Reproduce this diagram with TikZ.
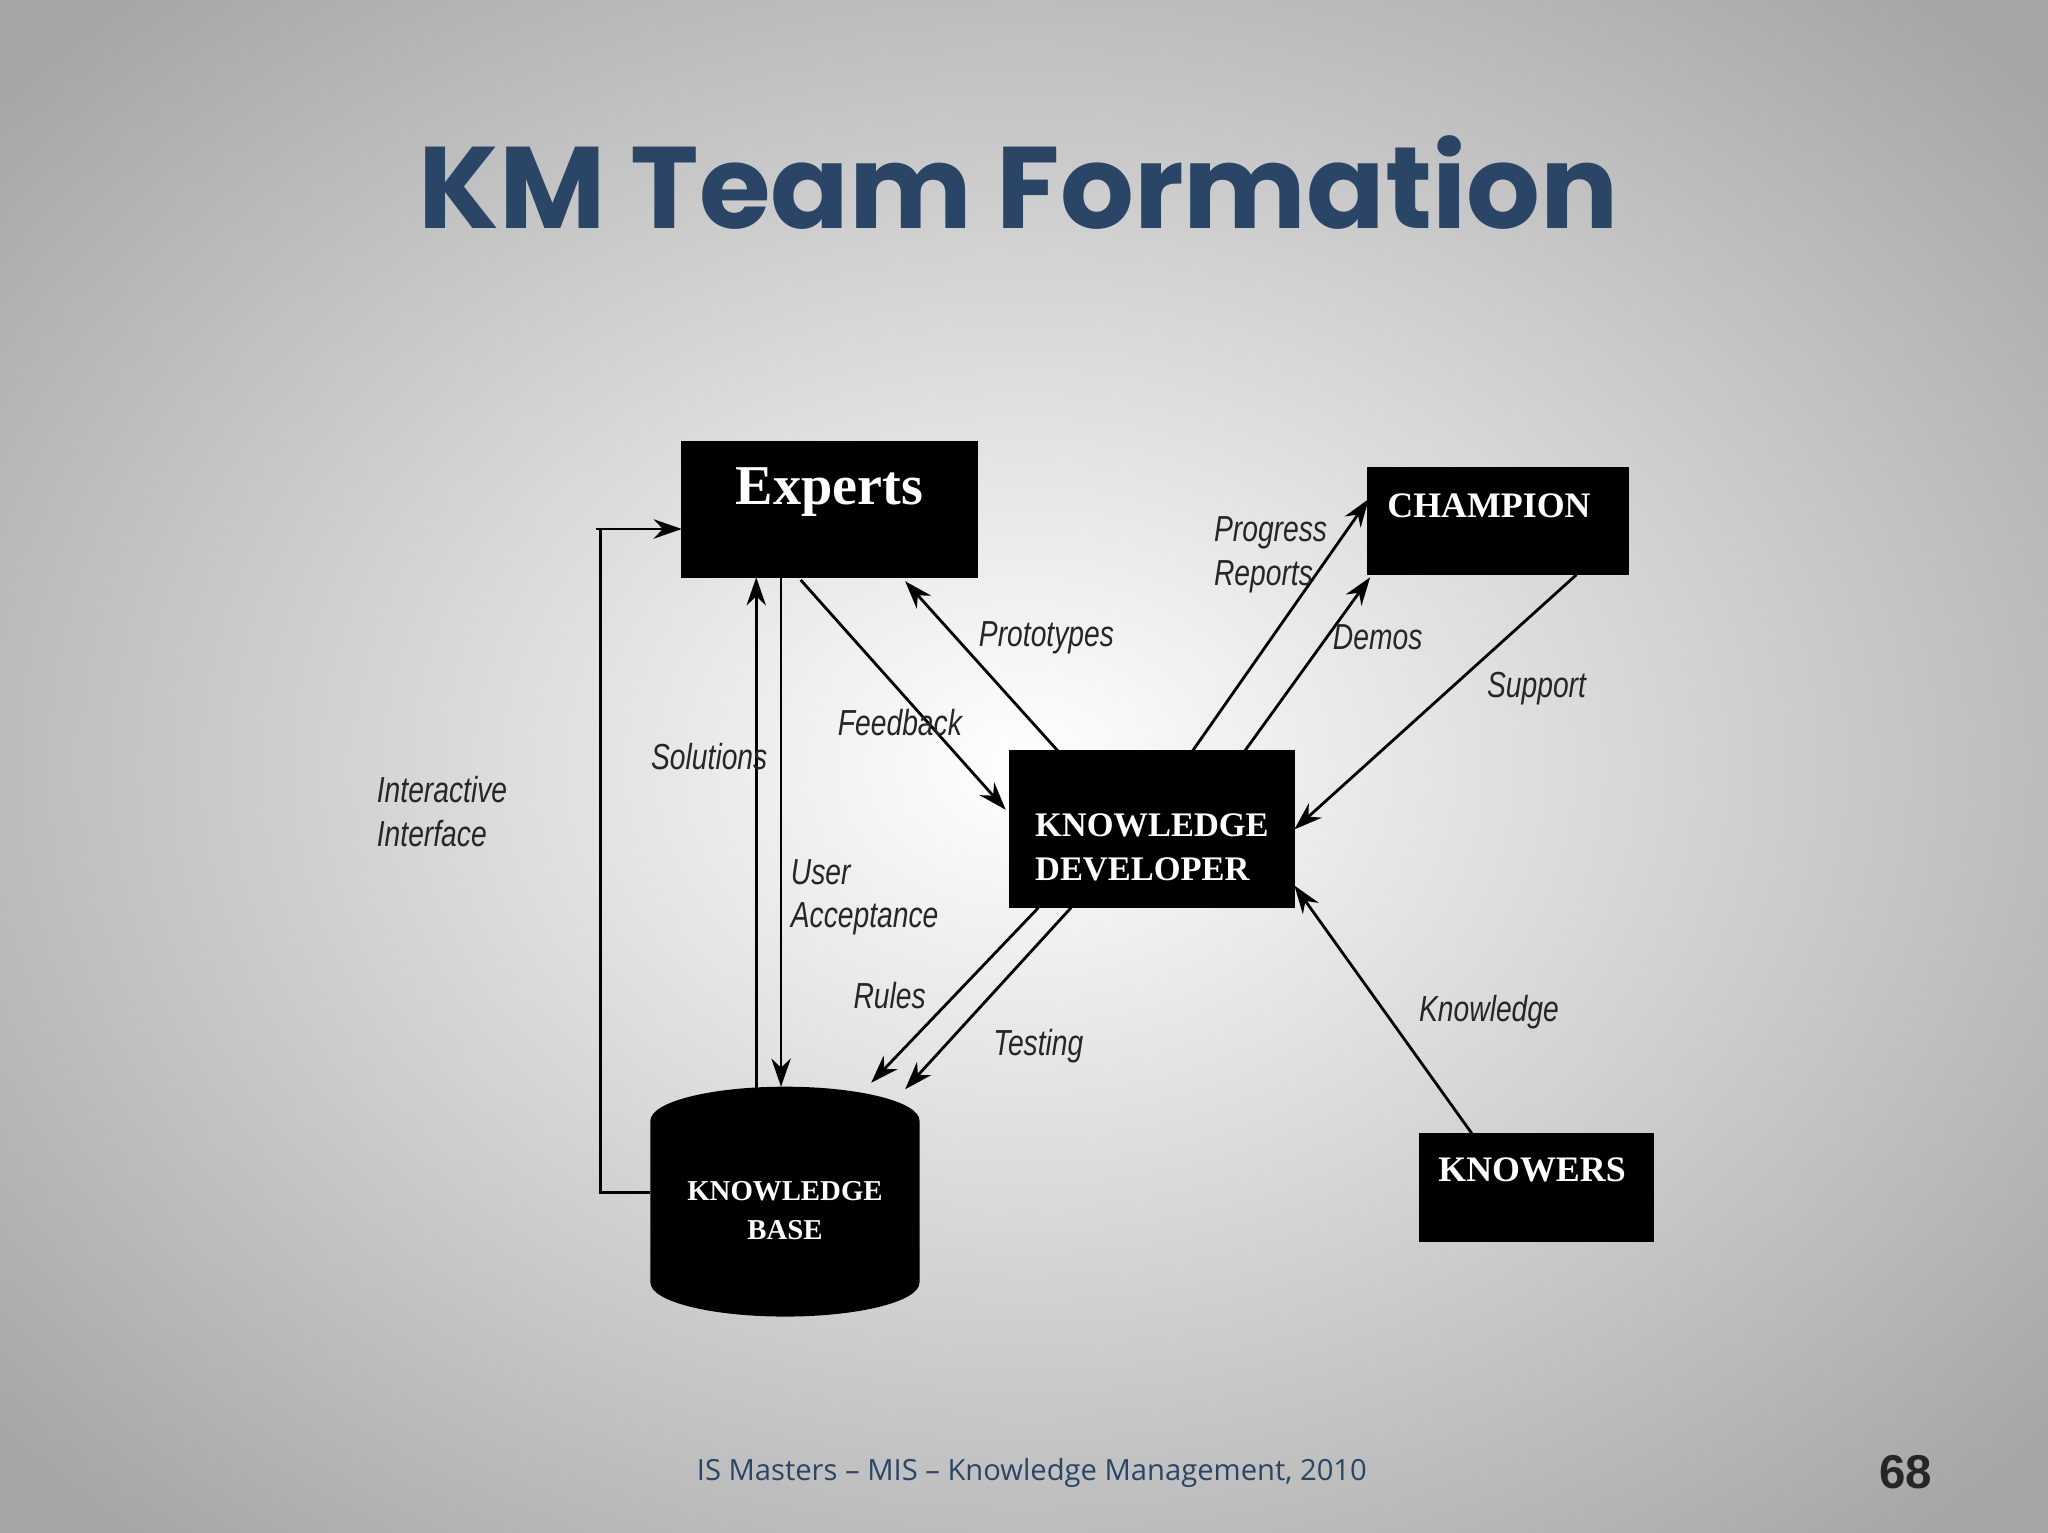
\documentclass[tikz,border=0pt]{standalone}
\usepackage{fontspec}
\usetikzlibrary{arrows.meta}
\setmainfont{Liberation Serif}
\newfontfamily\lblfont[FakeStretch=0.78]{Liberation Sans}
\newfontfamily\titlefont{Poppins}
\newfontfamily\footfont{Open Sans}
\newfontfamily\numfont{Liberation Sans}
\definecolor{navy}{HTML}{2A4566}
\begin{document}
\begin{tikzpicture}[x=0.01306cm,y=-0.01306cm,
  blk/.style={fill=black,draw=black},
  btxt/.style={text=white,font=\bfseries,inner sep=0},
  lbl/.style={font=\lblfont\itshape\fontsize{10.3}{12.5}\selectfont,anchor=west,inner sep=0,text=black!85},
  arr/.style={-{Stealth[length=8pt,width=5.5pt]},line width=0.8pt}]
\useasboundingbox (0,0) rectangle (1568,1173);
\begin{scope}
\clip (0,0) rectangle (1568,1173);
\shade[inner color=white,outer color=black!35] (-250,-200) rectangle (1818,1373);
\end{scope}
\node[text=navy,font=\titlefont\bfseries\fontsize{33}{38}\selectfont] (title) at (780,140) {KM Team Formation};
% boxes
\draw[blk] (522,338) rectangle (748,442);
\node[btxt,font=\bfseries\fontsize{16}{18}\selectfont] (exp) at (635,377) {Experts};
\draw[blk] (1047,358) rectangle (1247,440);
\node[btxt,font=\bfseries\fontsize{10.2}{12}\selectfont] (ch) at (1140,387) {CHAMPION};
\draw[blk] (773,575) rectangle (991,695);
\node[btxt,font=\bfseries\fontsize{9.8}{12.5}\selectfont,align=left,anchor=west] (kd) at (792,649) {KNOWLEDGE\\DEVELOPER};
\draw[blk] (1087,868) rectangle (1266,950);
\node[btxt,font=\bfseries\fontsize{10.2}{12}\selectfont] (kn) at (1173,896) {KNOWERS};
\fill (498,858) -- (498,982) arc[start angle=180,end angle=360,x radius=103,y radius=-26] -- (704,858) arc[start angle=0,end angle=180,x radius=103,y radius=-26] -- cycle;
\node[btxt,font=\bfseries\fontsize{8.2}{11}\selectfont,align=center] (kb) at (601,927) {KNOWLEDGE\\BASE};
% connectors
\coordinate (i1) at (460,913); \coordinate (i2) at (460,405);
\draw[arr] (498,913) -- (i1) -- (i2) -- (522,405);
\draw[line width=0.8pt] (i2) -- +(-4,0);
\draw[arr] (579,834) -- (579,442);
\draw[arr] (598,442) -- (598,832);
\draw[arr] (613,444) -- (770,620);
\draw[arr] (810,575) -- (693,445);
\draw[arr] (913,575) -- (1048,382);
\draw[arr] (953,575) -- (1049,442);
\draw[arr] (1207,440) -- (991,635);
\draw[arr] (1127,868) -- (991,678);
\draw[arr] (795,695) -- (667,829);
\draw[arr] (820,695) -- (693,834);
% labels
\node[lbl,align=left] (l1) at (929,425) {Progress\\Reports};
\node[lbl] (l2) at (749,488) {Prototypes};
\node[lbl] (l3) at (1020,488) {Demos};
\node[lbl] (l4) at (1138,527) {Support};
\node[lbl] (l5) at (641,553) {Feedback};
\node[lbl] (l6) at (498,579) {Solutions};
\node[lbl,align=left] (l7) at (288,621) {Interactive\\Interface};
\node[lbl,align=left] (l8) at (605,687) {User\\Acceptance};
\node[lbl] (l9) at (653,762) {Rules};
\node[lbl] (l10) at (760,801) {Testing};
\node[lbl] (l11) at (1086,775) {Knowledge};
\node[text=navy,font=\footfont\fontsize{8.3}{10}\selectfont] (ft) at (790,1128) {IS Masters – MIS – Knowledge Management, 2010};
\node[font=\numfont\bfseries\fontsize{13.5}{15}\selectfont,text=black!85] (pg) at (1459,1127) {68};
\end{tikzpicture}
\end{document}
